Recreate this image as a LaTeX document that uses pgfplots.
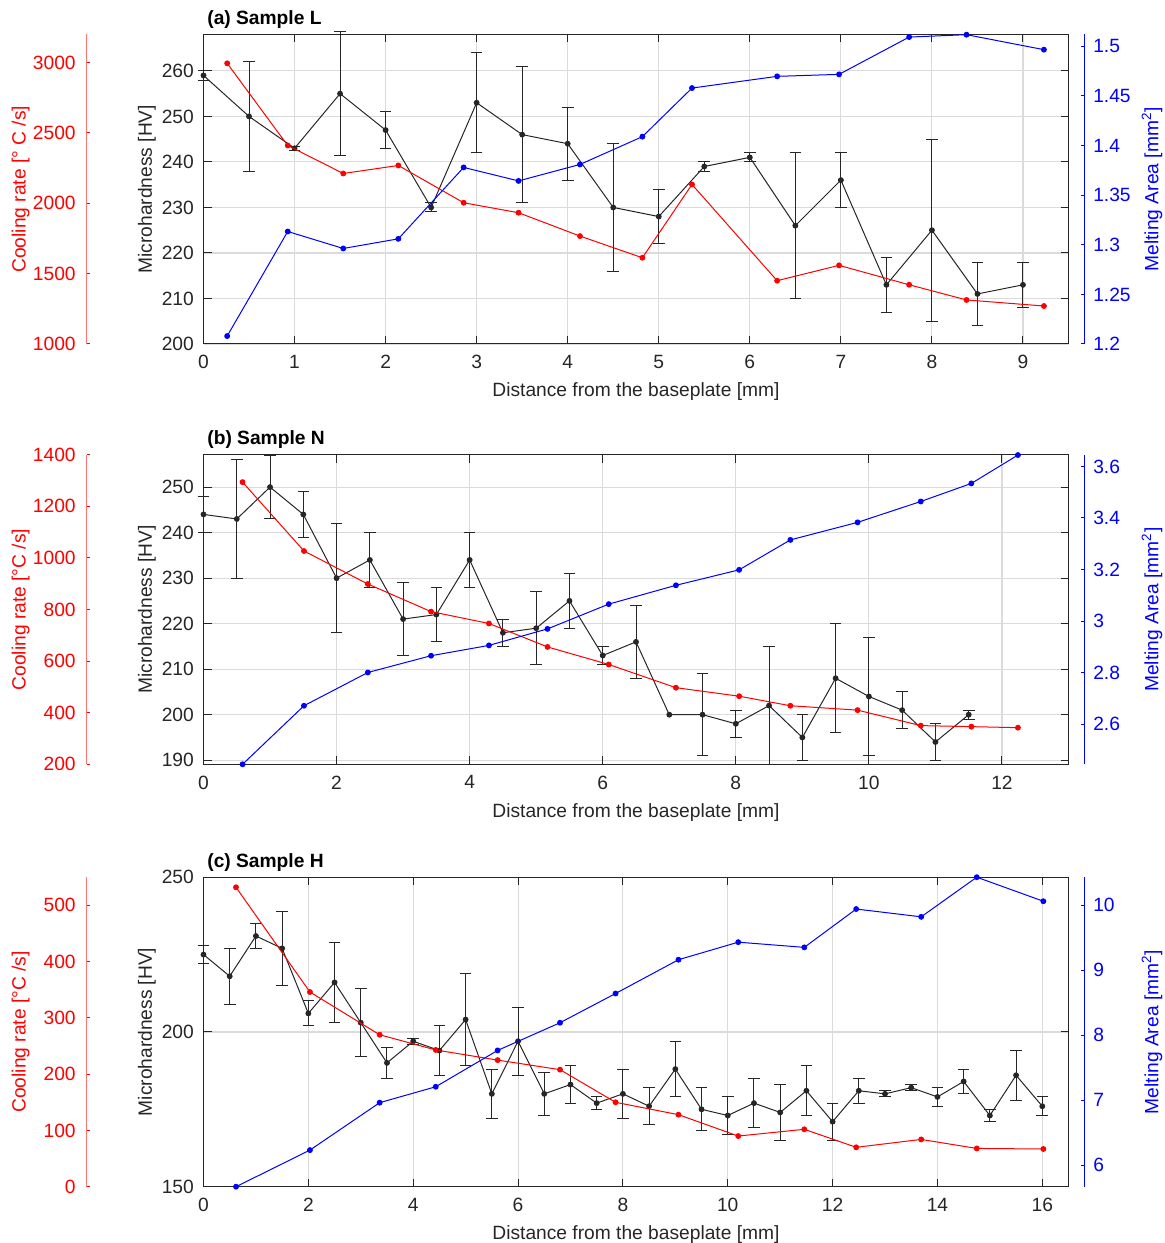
\documentclass[border=0pt]{standalone}
\usepackage{fontspec}
\setmainfont{Liberation Sans}
\usepackage{pgfplots}
\usepackage{pgfplotstable}
\pgfplotsset{compat=1.18}
\definecolor{dk}{rgb}{0.15,0.15,0.15}
\newcommand{\tl}{\fontsize{9.6}{11}\selectfont}

\pgfplotstableread{
x y e
0 259 1
0.5 250 12
1 243 0.4
1.5 255 13.6
2 247 4
2.5 230 1
3 253 11
3.5 246 15
4 244 8
4.5 230 14
5 228 6
5.5 239 1
6 241 1
6.5 226 16
7 236 6
7.5 213 6
8 225 20
8.5 211 7
9 213 5
}\blackA
\pgfplotstableread{
x r b
0.26 2995 1.208
0.925 2411 1.3134
1.535 2212 1.2963
2.14 2269 1.306
2.857 2004 1.378
3.46 1933 1.3644
4.135 1767 1.381
4.82 1613 1.409
5.365 2134 1.458
6.3 1450 1.4698
6.98 1559 1.4718
7.75 1421 1.5094
8.38 1313 1.5118
9.23 1270 1.4967
}\rbA
\pgfplotstableread{
x y e
0 244 4
0.5 243 13
1 250 7
1.5 244 5
2 230 12
2.5 234 6
3 221 8
3.5 222 6
4 234 6
4.5 218 3
5 219 8
5.5 225 6
6 213 2
6.5 216 8
7 200 0
7.5 200 9
8 198 3
8.5 202 13
9 195 5
9.5 208 12
10 204 13
10.5 201 4
11 194 4
11.5 200 1
}\blackB
\pgfplotstableread{
x r b
0.587 1294 2.445
1.51 1027 2.672
2.47 899 2.801
3.42 792 2.866
4.29 746 2.906
5.17 655 2.970
6.09 587 3.066
7.10 497 3.139
8.05 464 3.199
8.82 427 3.315
9.83 410 3.383
10.78 350 3.464
11.54 346 3.534
12.24 342 3.644
}\rbB
\pgfplotstableread{
x y e
0 225 3
0.5 218 9
1 231 4
1.5 227 12
2 206 4
2.5 216 13
3 203 11
3.5 190 5
4 197 1
4.5 194 8
5 204 15
5.5 180 8
6 197 11
6.5 180 7
7 183 6
7.5 177 2
8 180 8
8.5 176 6
9 188 9
9.5 175 7
10 173 6
10.5 177 8
11 174 9
11.5 181 8
12 171 6
12.5 181 4
13 180 1
13.5 182 1
14 179 3
14.5 184 4
15 173 2
15.5 186 8
16 176 3
}\blackC
\pgfplotstableread{
x r b
0.62 532 5.667
2.03 346 6.23
3.36 270 6.96
4.43 243 7.205
5.61 225 7.764
6.80 208 8.19
7.86 150 8.64
9.06 128 9.16
10.2 90 9.43
11.46 102 9.35
12.45 70 9.94
13.69 84 9.82
14.75 68 10.43
16.02 67 10.06
}\rbC

\pgfplotsset{
  base/.style={scale only axis, width=432.5pt, height=154.75pt, anchor=south west, clip=false},
  nf/.style={/pgf/number format/assume math mode=true, /pgf/number format/1000 sep={}, scaled ticks=false},
  mainax/.style={base, nf,
    axis line style={dk, line width=0.5pt},
    tick style={dk, line width=0.5pt}, major tick length=4pt, tick align=inside,
    grid=major, major grid style={black!14, line width=0.55pt},
    tick label style={font=\tl, text=dk},
    label style={font=\tl, text=dk},
    xticklabel style={yshift=-2.2pt},
    yticklabel style={xshift=-1.3pt},
    xlabel={Distance from the baseplate [mm]},
    xlabel style={at={(axis description cs:0.5,0)}, anchor=center, yshift=-24pt},
    ylabel={Microhardness [HV]},
    ylabel style={at={(axis description cs:-0.0653,0.5)}, anchor=center},
    title style={at={(axis description cs:0,1)}, anchor=base west, inner sep=0pt, xshift=1.75pt, yshift=-1pt, font=\tl\bfseries, text=black},
  },
  dataax/.style={base, hide axis},
  redscale/.style={nf, scale only axis, width=10pt, height=154.75pt, anchor=south west, xmin=0, xmax=1,
    axis y line*=left, hide x axis,
    y axis line style={red!55, line width=0.5pt},
    ytick style={red, line width=0.5pt}, major tick length=1.5pt, tick align=inside,
    yticklabel style={font=\tl, text=red, xshift=-2pt},
    ylabel style={font=\tl, text=red, at={(axis description cs:-3.3,0.5)}, anchor=center}},
  bluescale/.style={nf, scale only axis, width=10pt, height=154.75pt, anchor=south east, xmin=0, xmax=1,
    axis y line*=right, hide x axis,
    y axis line style={blue, line width=0.5pt},
    ytick style={blue, line width=0.5pt}, major tick length=1.5pt, tick align=inside,
    yticklabel style={font=\tl, text=blue, xshift=1.1pt},
    ylabel style={font=\tl, text=blue, at={(axis description cs:4.4,0.5)}, anchor=center}},
  blk/.style={dk, line width=0.5pt, mark=*, mark size=1.2pt, mark options={solid, fill=dk}},
  errs/.style={draw=none, mark=none, forget plot,
    restrict expr to domain={\thisrow{e}}{0.01:1000},
    error bars/.cd, y dir=both, y explicit,
    error bar style={draw=dk, line width=0.5pt},
    error mark options={draw=dk, line width=0.5pt, mark size=2.9pt, rotate=90}},
  rline/.style={red, line width=0.5pt, mark=*, mark size=1.2pt, mark options={fill=red}},
  bline/.style={blue, line width=0.5pt, mark=*, mark size=1.2pt, mark options={fill=blue}},
}

\begin{document}
\begin{tikzpicture}
\useasboundingbox (0,0) rectangle (582pt,621.5pt);
% ---------------- panel (a)
\begin{axis}[mainax, at={(101.75pt,449.5pt)}, xmin=0, xmax=9.5, ymin=200, ymax=268,
  xtick={0,1,...,9}, ytick={200,210,...,260}, title={(a) Sample L}]
\addplot[errs] table[x=x, y=y, y error=e] {\blackA};
\addplot[blk] table[x=x, y=y] {\blackA};
\end{axis}
\begin{axis}[dataax, at={(101.75pt,449.5pt)}, xmin=0, xmax=9.5, ymin=1000, ymax=3200]
\addplot[rline] table[x=x, y=r] {\rbA};
\end{axis}
\begin{axis}[dataax, at={(101.75pt,449.5pt)}, xmin=0, xmax=9.5, ymin=1.2, ymax=1.512]
\addplot[bline] table[x=x, y=b] {\rbA};
\end{axis}
\begin{axis}[redscale, at={(43.35pt,449.5pt)}, ymin=1000, ymax=3200, ytick={1000,1500,...,3000},
  ylabel={Cooling rate [° C /s]}]
\end{axis}
\begin{axis}[bluescale, at={(542pt,449.5pt)}, ymin=1.2, ymax=1.512, ytick={1.2,1.25,...,1.5},
  ylabel={Melting Area [mm\textsuperscript{2}]}]
\end{axis}
% ---------------- panel (b)
\begin{axis}[mainax, at={(101.75pt,239.35pt)}, xmin=0, xmax=13, ymin=189.1, ymax=257.1,
  xtick={0,2,...,12}, ytick={190,200,...,250}, title={(b) Sample N}]
\addplot[errs] table[x=x, y=y, y error=e] {\blackB};
\addplot[blk] table[x=x, y=y] {\blackB};
\end{axis}
\begin{axis}[dataax, at={(101.75pt,239.35pt)}, xmin=0, xmax=13, ymin=200, ymax=1400]
\addplot[rline] table[x=x, y=r] {\rbB};
\end{axis}
\begin{axis}[dataax, at={(101.75pt,239.35pt)}, xmin=0, xmax=13, ymin=2.445, ymax=3.645]
\addplot[bline] table[x=x, y=b] {\rbB};
\end{axis}
\begin{axis}[redscale, at={(43.35pt,239.35pt)}, ymin=200, ymax=1400, ytick={200,400,...,1400},
  ylabel={Cooling rate [°C /s]}]
\end{axis}
\begin{axis}[bluescale, at={(542pt,239.35pt)}, ymin=2.445, ymax=3.645, ytick={2.6,2.8,3,3.2,3.4,3.6},
  ylabel={Melting Area [mm\textsuperscript{2}]}]
\end{axis}
% ---------------- panel (c)
\begin{axis}[mainax, at={(101.75pt,28.15pt)}, xmin=0, xmax=16.5, ymin=150, ymax=250,
  xtick={0,2,...,16}, ytick={150,200,250}, title={(c) Sample H}]
\addplot[errs] table[x=x, y=y, y error=e] {\blackC};
\addplot[blk] table[x=x, y=y] {\blackC};
\end{axis}
\begin{axis}[dataax, at={(101.75pt,28.15pt)}, xmin=0, xmax=16.5, ymin=0, ymax=550]
\addplot[rline] table[x=x, y=r] {\rbC};
\end{axis}
\begin{axis}[dataax, at={(101.75pt,28.15pt)}, xmin=0, xmax=16.5, ymin=5.667, ymax=10.43]
\addplot[bline] table[x=x, y=b] {\rbC};
\end{axis}
\begin{axis}[redscale, at={(43.35pt,28.15pt)}, ymin=0, ymax=550, ytick={0,100,...,500},
  ylabel={Cooling rate [°C /s]}]
\end{axis}
\begin{axis}[bluescale, at={(542pt,28.15pt)}, ymin=5.667, ymax=10.43, ytick={6,7,...,10},
  ylabel={Melting Area [mm\textsuperscript{2}]}]
\end{axis}
\end{tikzpicture}
\end{document}
